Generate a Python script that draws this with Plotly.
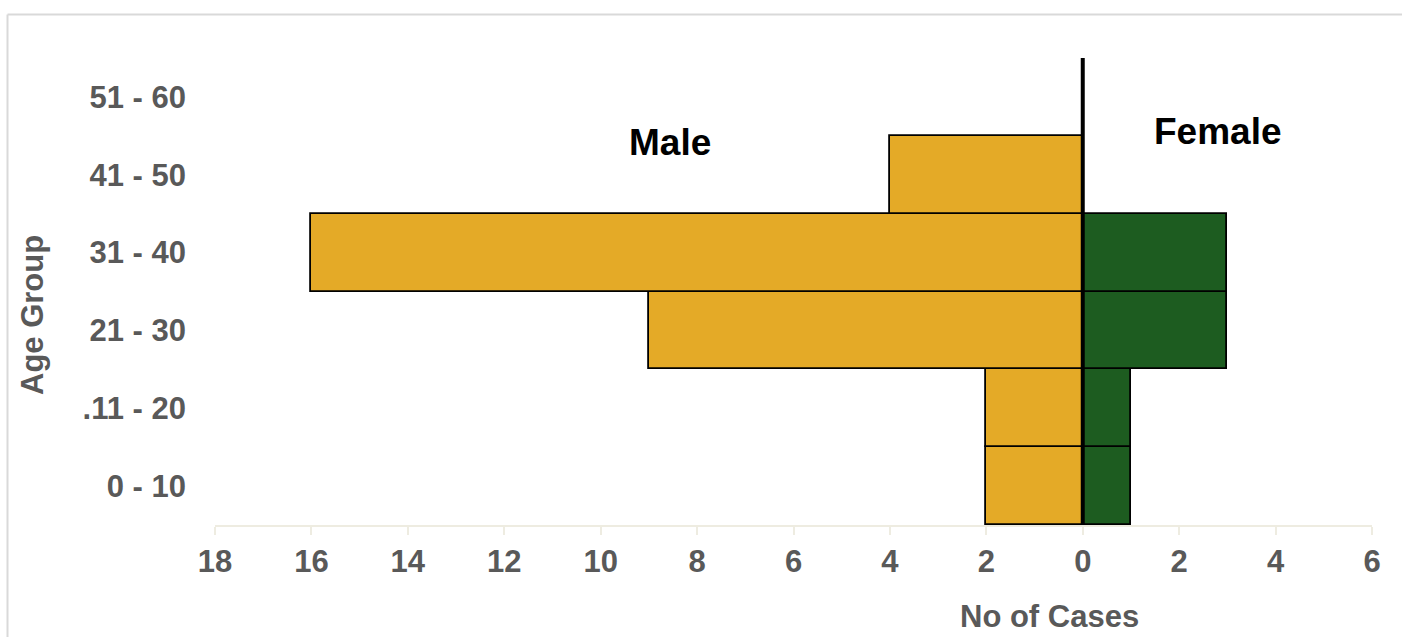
import plotly.graph_objects as go

# Age groups (bottom to top) and case counts by sex
age_groups = ["0 - 10", ".11 - 20", "21 - 30", "31 - 40", "41 - 50", "51 - 60"]
male_cases = [2, 2, 9, 16, 4, 0]
female_cases = [1, 1, 3, 3, 0, 0]

x_ticks = list(range(-18, 7, 2))
x_tick_text = [str(abs(v)) for v in x_ticks]

MALE_COLOR = "#E4AA27"
FEMALE_COLOR = "#1D5C20"
TEXT_GRAY = "#595959"
AXIS_COLOR = "#EEECE1"
FONT = "Liberation Sans, Arial, sans-serif"

fig = go.Figure()
fig.add_trace(go.Bar(
    y=age_groups, x=[-v for v in male_cases], orientation="h", width=1,
    marker=dict(color=MALE_COLOR, line=dict(color="black", width=1.8)),
    name="Male", hoverinfo="skip",
))
fig.add_trace(go.Bar(
    y=age_groups, x=female_cases, orientation="h", width=1,
    marker=dict(color=FEMALE_COLOR, line=dict(color="black", width=1.8)),
    name="Female", hoverinfo="skip",
))

# centre divider
fig.add_shape(type="line", xref="x", yref="paper", x0=0, x1=0, y0=0, y1=1,
              line=dict(color="black", width=4), layer="above")

# page geometry helpers (pixel -> paper fraction)
W, H, L, R, T, B = 1402, 637, 215, 30, 58, 112
pw, ph = W - L - R, H - T - B
def px_x(px):
    return (px - L) / pw
def px_y(py):
    return (H - B - py) / ph

# outer frame (top and left edges)
fig.add_shape(type="line", xref="paper", yref="paper",
              x0=px_x(7.5), x1=px_x(1410), y0=px_y(14.5), y1=px_y(14.5),
              line=dict(color="#D9D9D9", width=2))
fig.add_shape(type="line", xref="paper", yref="paper",
              x0=px_x(7.5), x1=px_x(7.5), y0=px_y(14.5), y1=px_y(650),
              line=dict(color="#D9D9D9", width=2))

fig.add_annotation(x=-8.57, y=4.42, xref="x", yref="y", text="<b>Male</b>",
                   showarrow=False, font=dict(family=FONT, size=37, color="black"))
fig.add_annotation(x=2.8, y=4.56, xref="x", yref="y", text="<b>Female</b>",
                   showarrow=False, font=dict(family=FONT, size=37, color="black"))

# axis titles
fig.add_annotation(x=px_x(1049), y=px_y(616), xref="paper", yref="paper",
                   text="<b>No of Cases</b>", showarrow=False,
                   xanchor="center", yanchor="middle",
                   font=dict(family=FONT, size=31, color=TEXT_GRAY))
fig.add_annotation(x=px_x(33), y=px_y(315), xref="paper", yref="paper",
                   text="<b>Age Group</b>", showarrow=False, textangle=-90,
                   xanchor="center", yanchor="middle",
                   font=dict(family=FONT, size=31, color=TEXT_GRAY))

fig.update_layout(
    width=W, height=H,
    margin=dict(l=L, r=R, t=T, b=B),
    paper_bgcolor="white", plot_bgcolor="white",
    barmode="overlay", bargap=0, showlegend=False,
    font=dict(family=FONT, color=TEXT_GRAY),
    xaxis=dict(
        range=[-18, 6], tickvals=x_ticks, ticktext=x_tick_text,
        showgrid=False, zeroline=False,
        showline=True, linecolor=AXIS_COLOR, linewidth=2,
        ticks="outside", ticklen=8, tickcolor=AXIS_COLOR, tickwidth=2,
        tickfont=dict(family=FONT, size=31, color=TEXT_GRAY, weight="bold"),
        automargin=False,
    ),
    yaxis=dict(
        type="category", categoryorder="array", categoryarray=age_groups,
        range=[-0.5, 5.5], showgrid=False, zeroline=False, showline=False,
        ticks="", ticklabelstandoff=28,
        tickfont=dict(family=FONT, size=31, color=TEXT_GRAY, weight="bold"),
        automargin=False,
    ),
)

fig.write_html("out.html")
